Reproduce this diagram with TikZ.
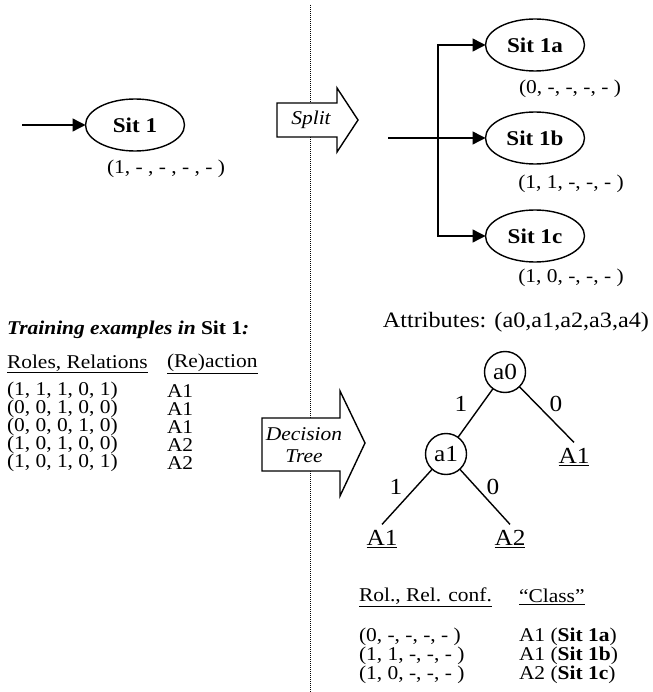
\documentclass[tikz,border=0pt]{standalone}
\usepackage{fontspec}
\setmainfont[FakeStretch=1.1]{Liberation Serif}
\usetikzlibrary{arrows.meta,shapes.geometric}
\begin{document}
\begin{tikzpicture}[x=1pt,y=-1pt,
  every node/.style={inner sep=0pt, outer sep=0pt},
  sit/.style={draw, ellipse, line width=1.4pt, minimum width=99pt, minimum height=52pt, font=\fontsize{21}{24}\selectfont\bfseries},
  conn/.style={line width=1.4pt, -{Triangle[length=13pt,width=13pt]}},
  tab/.style={anchor=west, font=\fontsize{19.5}{19.5}\selectfont},
  lbl/.style={font=\fontsize{19.5}{19.5}\selectfont},
  big/.style={font=\fontsize{23}{23}\selectfont},
  trc/.style={draw, circle, line width=1.4pt, minimum size=41pt, font=\fontsize{23}{23}\selectfont},
  treeline/.style={line width=1.4pt},
  bigarrow/.style={draw, fill=white, line width=1.4pt, line join=miter},
  itx/.style={font=\fontsize{19.5}{19.5}\selectfont\itshape}
]
\useasboundingbox (0,0) rectangle (652,692);
% divider
\draw[line width=1pt, dash pattern=on 1pt off 1pt] (310,5) coordinate (d1) -- (310,692) coordinate (d2);

% Split arrow
\draw[bigarrow] (277,103) -- (337,103) -- (337,88) -- (358,120) -- (337,152) -- (337,137) -- (277,137) -- cycle;
\node[itx] (split) at (311,120) {Split};

% Sit 1
\coordinate (in) at (22,125);
\node[sit] (s1) at (135,125) {Sit 1};
\draw[conn] (in) -- (s1);
\node[lbl] (l1) at (166,169) {(1, - , - , - , - )};

% Split result
\coordinate (sp) at (388,138);
\coordinate (br) at (438,138);
\node[sit] (s1a) at (535,45) {Sit 1a};
\node[sit] (s1b) at (535,138) {Sit 1b};
\node[sit] (s1c) at (535,236) {Sit 1c};
\draw[conn] (sp) -- (s1b);
\draw[conn] (br) |- (s1a);
\draw[conn] (br) |- (s1c);
\node[lbl] (l1a) at (570,89) {(0, -, -, -, - )};
\node[lbl] (l1b) at (571,184) {(1, 1, -, -, - )};
\node[lbl] (l1c) at (571,278) {(1, 0, -, -, - )};

% Attributes
\node[font=\fontsize{22}{22}\selectfont, anchor=east] (attr) at (649,322) {Attributes: (a0,a1,a2,a3,a4)};

% Training examples
\node[tab, font=\fontsize{19.5}{19.5}\selectfont\bfseries\itshape] (th) at (7,330) {Training examples in \textup{Sit 1}:};
\node[tab] (rh1) at (7,364) {\underline{Roles, Relations}};
\node[tab] (rh2) at (167,364) {\underline{(Re)action}};
\node[tab] (r1) at (7,391) {(1, 1, 1, 0, 1)};
\node[tab] (r2) at (7,409) {(0, 0, 1, 0, 0)};
\node[tab] (r3) at (7,427) {(0, 0, 0, 1, 0)};
\node[tab] (r4) at (7,445) {(1, 0, 1, 0, 0)};
\node[tab] (r5) at (7,463) {(1, 0, 1, 0, 1)};
\node[tab] (c1) at (167,391) {A1};
\node[tab] (c2) at (167,409) {A1};
\node[tab] (c3) at (167,427) {A1};
\node[tab] (c4) at (167,445) {A2};
\node[tab] (c5) at (167,463) {A2};

% Decision tree arrow
\draw[bigarrow] (262,418) -- (340,418) -- (340,391) -- (365,443) -- (340,496) -- (340,471) -- (262,471) -- cycle;
\node[itx] (dec) at (304,434) {Decision};
\node[itx] (tree) at (304,456) {Tree};

% Tree
\node[trc] (a0) at (505,372) {a0};
\node[trc] (a1) at (446,454) {a1};
\node[big] (lA1) at (382,539) {\underline{A1}};
\node[big] (lA2) at (510,539) {\underline{A2}};
\node[big] (rA1) at (574,457) {\underline{A1}};
\draw[treeline] (a0) -- (a1);
\draw[treeline] (a0) -- ([yshift=6pt]rA1.north);
\draw[treeline] (a1) -- ([yshift=6pt]lA1.north);
\draw[treeline] (a1) -- ([yshift=6pt]lA2.north);
\node[big] (e1) at (461,404) {1};
\node[big] (e2) at (556,404) {0};
\node[big] (e3) at (396,487) {1};
\node[big] (e4) at (493,487) {0};

% Class table
\node[tab] (ch1) at (359,597) {\underline{Rol., Rel. conf.}};
\node[tab] (ch2) at (519,597) {\underline{“Class”}};
\node[tab] (k1) at (359,637) {(0, -, -, -, - )};
\node[tab] (k2) at (359,656) {(1, 1, -, -, - )};
\node[tab] (k3) at (359,675) {(1, 0, -, -, - )};
\node[tab] (m1) at (519,637) {A1 (\textbf{Sit 1a})};
\node[tab] (m2) at (519,656) {A1 (\textbf{Sit 1b})};
\node[tab] (m3) at (519,675) {A2 (\textbf{Sit 1c})};
\end{tikzpicture}
\end{document}
